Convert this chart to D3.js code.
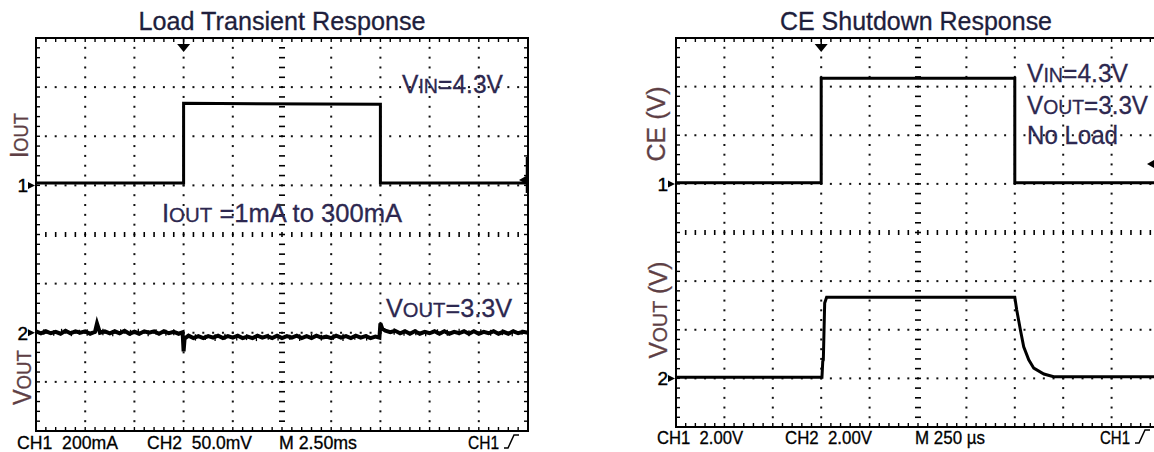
<!DOCTYPE html>
<html>
<head>
<meta charset="utf-8">
<script src="https://cdn.jsdelivr.net/npm/d3@7"></script>
<style>
  body { margin: 0; background: #fff; }
  svg { display: block; font-family: "Liberation Sans", Arial, sans-serif; }
</style>
</head>
<body>
<div id="chart"></div>
<script>
// Load transient (left scope shot): time in ms, IOUT in mA
const loadTime = [0, 7.5, 7.5, 17.5, 17.5, 25];
const loadIout = [10, 10, 334, 330, 10, 10];

// VOUT ripple around the CH2 marker, in mV
const loadVoutTime = [
  0, 0.25, 0.5, 0.75, 1, 1.25, 1.5, 1.75, 2, 2.25, 2.5, 2.75, 3, 3.1, 3.25, 3.5, 3.75,
  4, 4.25, 4.5, 4.75, 5, 5.25, 5.5, 5.75, 6, 6.25, 6.5, 6.75, 7, 7.25, 7.45, 7.5, 7.55,
  7.75, 8, 8.25, 8.5, 8.75, 9, 9.25, 9.5, 9.75, 10, 10.25, 10.5, 10.75, 11, 11.25, 11.5, 11.75,
  12, 12.25, 12.5, 12.75, 13, 13.25, 13.5, 13.75, 14, 14.25, 14.5, 14.75, 15, 15.25, 15.5, 15.75,
  16, 16.25, 16.5, 16.75, 17, 17.25, 17.45, 17.5, 17.6, 17.75,
  18, 18.25, 18.5, 18.75, 19, 19.25, 19.5, 19.75, 20, 20.25, 20.5, 20.75, 21, 21.25, 21.5, 21.75,
  22, 22.25, 22.5, 22.75, 23, 23.25, 23.5, 23.75, 24, 24.25, 24.5, 24.75, 25
];
const loadVout = [
  1.5, -0.5, 1.5, -0.5, 1, -1, 2, -0.5, 1.5, 0, 1.5, -1, 1, 9.5, 0, 1.5, -0.5,
  1.5, -0.5, 2, -1, 1, -1, 1.5, 0, 1.5, -1, 1.5, -0.5, 1, -1, 0.5, -19, -6,
  -3, -5.5, -3.5, -5.5, -3.5, -5, -3, -5.5, -3.5, -5, -3, -5.5, -4, -5.5, -3, -5, -3.5,
  -5.5, -3, -5.5, -3.5, -5, -3, -5.5, -3.5, -5.5, -3, -5, -4, -5.5, -3, -5, -3.5,
  -5.5, -3, -5, -3.5, -5.5, -4, -5, 9.5, 4, 2,
  0.5, 2, -0.5, 1.5, -1, 1.5, -1, 1, -0.5, 1.5, -1, 1.5, -1, 1, -0.5, 1.5,
  -1, 1.5, -1, 1, -0.5, 1.5, -1, 1, -1, 1.5, -0.5, 1, 0
];
// noise hairs on the VOUT band: time (ms), low and high tip (mV)
const hairTime = [0.4, 0.9, 1.3, 1.8, 2.2, 2.6, 3.4, 3.9, 4.3, 4.8, 5.2, 5.7, 6.1, 6.6, 7.0,
  8.1, 8.6, 9.1, 9.6, 10.2, 10.7, 11.2, 11.8, 12.3, 12.9, 13.4, 14.0, 14.5, 15.1, 15.6, 16.2, 16.8,
  18.2, 18.7, 19.3, 19.8, 20.4, 20.9, 21.5, 22.0, 22.6, 23.1, 23.7, 24.2, 24.7];
const hairLow = [-2, -3, -1.5, -3.5, -2, -3, -2.5, -3.5, -2, -3, -2.5, -3.5, -2, -3, -2.5,
  -8, -7.5, -8.5, -7, -8, -7.5, -8.5, -7, -8, -7.5, -8.5, -7, -8, -7.5, -8.5, -7, -8,
  -2, -3, -2.5, -3.5, -2, -3, -2.5, -3.5, -2, -3, -2.5, -3.5, -2];
const hairHigh = [3.5, 2.5, 4, 2, 3, 3.5, 4, 2.5, 3.5, 3, 4, 2.5, 3.5, 3, 3.5,
  -1.5, -2, -1.5, -1, -2, -1.5, -2, -1, -1.5, -2, -1.5, -1, -2, -1.5, -1, -2, -1.5,
  4.5, 3, 3.5, 2.5, 3.5, 3, 4, 2.5, 3.5, 3, 3.5, 2.5, 3];

// CE shutdown (right scope shot): time in us, volts
const ceTime = [0, 750, 750, 1750, 1750, 2500];
const ceVolt = [0.05, 0.05, 4.34, 4.34, 0.05, 0.05];
const ceVoutTime = [0, 754, 758, 761, 768, 778, 1750, 1760, 1779, 1796, 1822, 1848, 1900, 1951, 2500];
const ceVout = [0.05, 0.05, 0.7, 0.76, 3.1, 3.34, 3.34, 2.81, 1.99, 1.30, 0.76, 0.42, 0.18, 0.07, 0.07];

const W = 1154, H = 452;
const titleColor = "#1e1e3c";
const noteColor = "#2d2850";
const sideColor = "#5e3f45";
const NB = "\u00a0";

const svg = d3.select("#chart").append("svg")
    .attr("width", W)
    .attr("height", H);

// Text helper: parts = [[string, sizeScale], ...] so small caps like VOUT work
function addText(parent, x, y, parts, opts) {
    const t = parent.append("text")
        .attr("x", x)
        .attr("y", y)
        .attr("font-size", opts.size + "px")
        .attr("fill", opts.color || "#000")
        .attr("text-anchor", opts.anchor || "start");
    if (opts.weight) t.attr("stroke", opts.color || "#000").attr("stroke-width", opts.weight);
    if (opts.len) t.attr("textLength", opts.len).attr("lengthAdjust", "spacingAndGlyphs");
    if (opts.rotate) t.attr("transform", `rotate(-90, ${x}, ${y})`);
    parts.forEach(p => {
        t.append("tspan")
            .attr("font-size", (opts.size * (p[1] || 1)) + "px")
            .text(p[0]);
    });
    return t;
}

// Scope graticule: 10 x 8 divisions, dotted grid, ticked centre lines and frame
function drawPanel(p) {
    const g = svg.append("g");
    const xDiv = d3.scaleLinear().domain([0, 10]).range([p.x0, p.x1]);
    const yDiv = d3.scaleLinear().domain([0, 8]).range([p.y0, p.y1]);
    const sub = d3.range(1, 50).map(k => k / 5);
    const subY = d3.range(1, 40).map(k => k / 5);

    // dotted vertical grid lines
    [1, 2, 3, 4, 6, 7, 8, 9].forEach(i => {
        g.selectAll(null).data(subY).enter().append("rect")
            .attr("x", xDiv(i) - 1).attr("y", d => yDiv(d) - 1)
            .attr("width", 2).attr("height", 2).attr("fill", "#111");
    });
    // dotted horizontal grid lines
    [1, 2, 3, 5, 6, 7].forEach(j => {
        g.selectAll(null).data(sub).enter().append("rect")
            .attr("x", d => xDiv(d) - 1).attr("y", yDiv(j) - 1)
            .attr("width", 2).attr("height", 2).attr("fill", "#111");
    });
    // centre lines with minor ticks
    g.selectAll(null).data(subY).enter().append("line")
        .attr("x1", xDiv(5) - 3).attr("x2", xDiv(5) + 3)
        .attr("y1", d => yDiv(d)).attr("y2", d => yDiv(d))
        .attr("stroke", "#000").attr("stroke-width", 1.6);
    g.selectAll(null).data(sub).enter().append("line")
        .attr("x1", d => xDiv(d)).attr("x2", d => xDiv(d))
        .attr("y1", yDiv(4) - 2.5).attr("y2", yDiv(4) + 2.5)
        .attr("stroke", "#000").attr("stroke-width", 1.6);

    // frame ticks pointing inwards
    g.selectAll(null).data(sub).enter().append("line")
        .attr("x1", d => xDiv(d)).attr("x2", d => xDiv(d))
        .attr("y1", p.y0).attr("y2", p.y0 + 4)
        .attr("stroke", "#000").attr("stroke-width", 1.4);
    g.selectAll(null).data(sub).enter().append("line")
        .attr("x1", d => xDiv(d)).attr("x2", d => xDiv(d))
        .attr("y1", p.y1).attr("y2", p.y1 - 4)
        .attr("stroke", "#000").attr("stroke-width", 1.4);
    g.selectAll(null).data(subY).enter().append("line")
        .attr("x1", p.x0).attr("x2", p.x0 + 4)
        .attr("y1", d => yDiv(d)).attr("y2", d => yDiv(d))
        .attr("stroke", "#000").attr("stroke-width", 1.4);
    g.selectAll(null).data(subY).enter().append("line")
        .attr("x1", p.x1).attr("x2", p.x1 - 4)
        .attr("y1", d => yDiv(d)).attr("y2", d => yDiv(d))
        .attr("stroke", "#000").attr("stroke-width", 1.4);

    g.append("rect")
        .attr("x", p.x0).attr("y", p.y0)
        .attr("width", p.x1 - p.x0).attr("height", p.y1 - p.y0)
        .attr("fill", "none").attr("stroke", "#000").attr("stroke-width", 2);

    // trigger position marker on top
    const tx = xDiv(3);
    g.append("line").attr("x1", tx).attr("x2", tx).attr("y1", p.y0).attr("y2", p.y0 + 8)
        .attr("stroke", "#000").attr("stroke-width", 1.5);
    g.append("path")
        .attr("d", `M${tx - 6.5},${p.y0 + 6} L${tx + 6.5},${p.y0 + 6} L${tx},${p.y0 + 14} Z`)
        .attr("fill", "#000");

    // channel ground markers
    p.grounds.forEach(gr => {
        const y = yDiv(gr.div);
        g.append("path")
            .attr("d", `M${p.x0 - 8},${y - 3.5} L${p.x0 - 1},${y} L${p.x0 - 8},${y + 3.5} Z`)
            .attr("fill", "#000");
        addText(g, p.x0 - 8, y + 7, [[gr.label]], { size: 19, anchor: "end", weight: 0.4 });
    });

    // trigger level marker on the right edge
    g.append("path")
        .attr("d", `M${p.trigX},${p.trigY} L${p.trigX + 8},${p.trigY - 4.5} L${p.trigX + 8},${p.trigY + 4.5} Z`)
        .attr("fill", "#000");

    return { g, xDiv, yDiv };
}

// ---------- Left: Load Transient Response ----------
const left = drawPanel({
    x0: 36, x1: 528, y0: 38, y1: 431,
    grounds: [{ div: 3, label: "1" }, { div: 6, label: "2" }],
    trigX: 519, trigY: 180
});
const xL = d3.scaleLinear().domain([0, 25]).range([36, 528]);
const yIout = v => left.yDiv(3 - v / 200);   // 200mA/div
const yVoutL = v => left.yDiv(6 - v / 50);   // 50.0mV/div

left.g.append("path")
    .datum(loadTime.map((t, i) => [t, loadIout[i]]))
    .attr("d", d3.line().x(d => xL(d[0])).y(d => yIout(d[1])))
    .attr("fill", "none").attr("stroke", "#000").attr("stroke-width", 3);
left.g.append("line")
    .attr("x1", 527).attr("x2", 527).attr("y1", 157).attr("y2", 193)
    .attr("stroke", "#000").attr("stroke-width", 2.5);

left.g.append("path")
    .datum(loadVoutTime.map((t, i) => [t, loadVout[i]]))
    .attr("d", d3.line().x(d => xL(d[0])).y(d => yVoutL(d[1])))
    .attr("fill", "none").attr("stroke", "#000").attr("stroke-width", 4)
    .attr("stroke-linejoin", "miter");
left.g.selectAll(null).data(hairTime).enter().append("line")
    .attr("x1", d => xL(d)).attr("x2", d => xL(d))
    .attr("y1", (d, i) => yVoutL(hairLow[i])).attr("y2", (d, i) => yVoutL(hairHigh[i]))
    .attr("stroke", "#000").attr("stroke-width", 1.3);

addText(svg, 282, 30, [["Load Transient Response"]], { size: 25, anchor: "middle", color: titleColor, len: 287, weight: 0.3 });
addText(svg, 28, 135.5, [["I"], ["OUT", 0.8]], { size: 25, anchor: "middle", color: sideColor, len: 45, rotate: true, weight: 0.3 });
addText(svg, 31, 377.5, [["V"], ["OUT", 0.8]], { size: 25, anchor: "middle", color: sideColor, len: 55, rotate: true, weight: 0.3 });
addText(svg, 402, 93, [["V"], ["IN", 0.8], ["=4.3V"]], { size: 25, color: noteColor, len: 101, weight: 0.3 });
addText(svg, 162, 221.5, [["I"], ["OUT", 0.8], [" =1mA to 300mA"]], { size: 25, color: noteColor, len: 240, weight: 0.3 });
addText(svg, 386, 316.5, [["V"], ["OUT", 0.8], ["=3.3V"]], { size: 25, color: noteColor, len: 126, weight: 0.3 });

addText(svg, 17, 449, [["CH1" + NB + NB + "200mA"]], { size: 18, len: 101, weight: 0.3 });
addText(svg, 147, 449, [["CH2" + NB + NB + "50.0mV"]], { size: 18, len: 105, weight: 0.3 });
addText(svg, 279, 449, [["M 2.50ms"]], { size: 18, len: 78, weight: 0.3 });
addText(svg, 468, 449, [["CH1"]], { size: 18, len: 31, weight: 0.3 });
svg.append("path").attr("d", "M504,448 h4 l6,-13 h5")
    .attr("fill", "none").attr("stroke", "#000").attr("stroke-width", 1.5);

// ---------- Right: CE Shutdown Response ----------
const right = drawPanel({
    x0: 676, x1: 1160, y0: 38, y1: 427,
    grounds: [{ div: 3, label: "1" }, { div: 7, label: "2" }],
    trigX: 1147, trigY: 164
});
const xR = d3.scaleLinear().domain([0, 2500]).range([676, 1160]);
const yCe = v => right.yDiv(3 - v / 2);     // 2.00V/div
const yVoutR = v => right.yDiv(7 - v / 2);  // 2.00V/div

right.g.append("path")
    .datum(ceTime.map((t, i) => [t, ceVolt[i]]))
    .attr("d", d3.line().x(d => xR(d[0])).y(d => yCe(d[1])))
    .attr("fill", "none").attr("stroke", "#000").attr("stroke-width", 3);
right.g.append("path")
    .datum(ceVoutTime.map((t, i) => [t, ceVout[i]]))
    .attr("d", d3.line().x(d => xR(d[0])).y(d => yVoutR(d[1])))
    .attr("fill", "none").attr("stroke", "#000").attr("stroke-width", 3);

addText(svg, 916, 29.5, [["CE Shutdown Response"]], { size: 25, anchor: "middle", color: titleColor, len: 272, weight: 0.3 });
addText(svg, 665, 124, [["CE (V)"]], { size: 25, anchor: "middle", color: sideColor, len: 75, rotate: true, weight: 0.3 });
addText(svg, 667, 310, [["V"], ["OUT", 0.8], [" (V)"]], { size: 25, anchor: "middle", color: sideColor, len: 97, rotate: true, weight: 0.3 });
addText(svg, 1027, 81.5, [["V"], ["IN", 0.8], ["=4.3V"]], { size: 25, color: noteColor, len: 101, weight: 0.3 });
addText(svg, 1027, 113.5, [["V"], ["OUT", 0.8], ["=3.3V"]], { size: 25, color: noteColor, len: 121, weight: 0.3 });
addText(svg, 1027, 143.5, [["No Load"]], { size: 25, color: noteColor, len: 91, weight: 0.3 });

addText(svg, 657, 444, [["CH1" + NB + NB + "2.00V"]], { size: 18, len: 86, weight: 0.3 });
addText(svg, 785, 444, [["CH2" + NB + NB + "2.00V"]], { size: 18, len: 87, weight: 0.3 });
addText(svg, 915, 444, [["M 250" + NB + "\u00b5s"]], { size: 18, len: 70, weight: 0.3 });
addText(svg, 1100, 444, [["CH1"]], { size: 18, len: 30, weight: 0.3 });
svg.append("path").attr("d", "M1135,443 h4 l6,-13 h5")
    .attr("fill", "none").attr("stroke", "#000").attr("stroke-width", 1.5);
</script>
</body>
</html>
